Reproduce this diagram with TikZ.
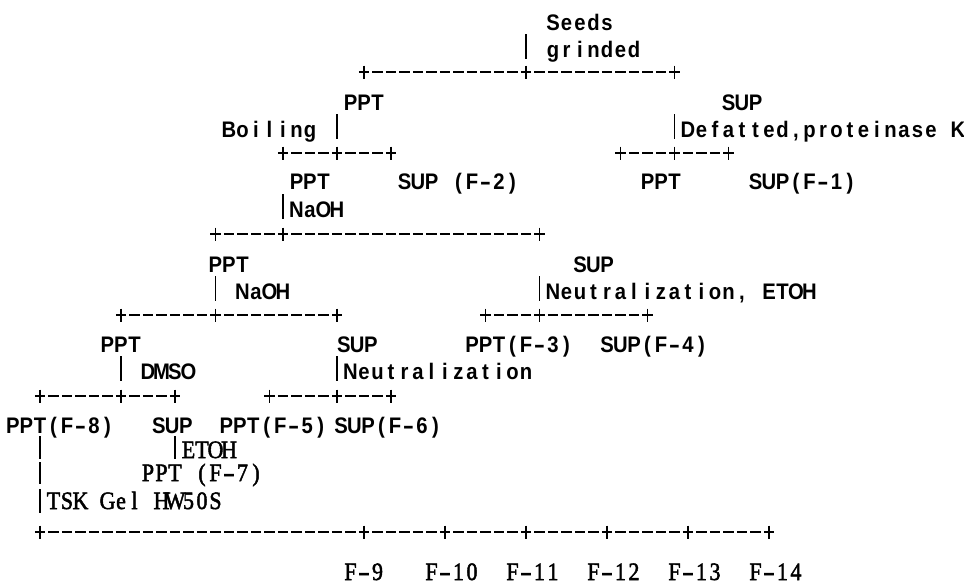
\documentclass[tikz,border=0pt]{standalone}
\usepackage{fontspec}
\usepackage{graphicx}
\newfontfamily\gsans{Liberation Sans}
\newfontfamily\gserif{Liberation Serif}[FakeBold=2]
\newlength\cellwd \setlength\cellwd{13.5pt}
% monospace emulation: every character sits in a cell 13.5pt wide
\def\sanscells#1{\sanscellsA#1\relax}
\def\sanscellsA#1{\ifx\relax#1\else\makebox[\cellwd][c]{\sanschr{#1}}\expandafter\sanscellsA\fi}
\def\sanschr#1{\ifx-#1\scalebox{1.5}[1]{-}\else\scalebox{0.9}[1]{#1}\fi}
\def\serifcells#1{\serifcellsA#1\relax}
\def\serifcellsA#1{\ifx\relax#1\else\makebox[\cellwd][c]{\serifchr{#1}}\expandafter\serifcellsA\fi}
\def\serifchr#1{\ifx-#1\scalebox{1.4}[1]{-}\else\scalebox{0.88}[1]{#1}\fi}
\tikzset{
  sanstxt/.style={anchor=base west, inner sep=0pt, outer sep=0pt,
    font=\gsans\bfseries\fontsize{22.5pt}{25pt}\selectfont},
  seriftxt/.style={anchor=base west, inner sep=0pt, outer sep=0pt,
    font=\gserif\fontsize{25pt}{27pt}\selectfont},
  hline/.style={line width=1.8pt, dash pattern=on 10.5pt off 3pt},
  tick/.style={line width=1.8pt},
  vbar/.style={line width=1.8pt}
}
\begin{document}
\begin{tikzpicture}
\path[fill=white, use as bounding box] (0pt,0pt) rectangle (964pt,-587pt);
\begin{scope}[x=13.5pt, y=-1pt, xshift=6.25pt]
% ---------- texts ----------
\node[sanstxt] (seeds)   at (40,30)  {\sanscells{Seeds}};
\node[sanstxt] (grinded) at (40,57)  {\sanscells{grinded}};
\node[sanstxt] (ppt1)    at (25,110) {\sanscells{PPT}};
\node[sanstxt] (sup1)    at (53,110) {\sanscells{SUP}};
\node[sanstxt] (boiling) at (16,137) {\sanscells{Boiling}};
\node[sanstxt] (defat)   at (50,137) {\sanscells{Defatted,proteinase~K}};
\node[sanstxt] (ppt2)    at (21,189) {\sanscells{PPT}};
\node[sanstxt] (supf2)   at (29,189) {\sanscells{SUP~(F-2)}};
\node[sanstxt] (ppt3)    at (47,189) {\sanscells{PPT}};
\node[sanstxt] (supf1)   at (55,189) {\sanscells{SUP(F-1)}};
\node[sanstxt] (naoh1)   at (21,217) {\sanscells{NaOH}};
\node[sanstxt] (ppt4)    at (15,272) {\sanscells{PPT}};
\node[sanstxt] (sup2)    at (42,272) {\sanscells{SUP}};
\node[sanstxt] (naoh2)   at (17,299) {\sanscells{NaOH}};
\node[sanstxt] (neut1)   at (40,299) {\sanscells{Neutralization,~ETOH}};
\node[sanstxt] (ppt5)    at (7,352)  {\sanscells{PPT}};
\node[sanstxt] (sup3)    at (24.5,352) {\sanscells{SUP}};
\node[sanstxt] (pptf3)   at (34,352) {\sanscells{PPT(F-3)}};
\node[sanstxt] (supf4)   at (44,352) {\sanscells{SUP(F-4)}};
\node[sanstxt] (dmso)    at (10,379) {\sanscells{DMSO}};
\node[sanstxt] (neut2)   at (25,379) {\sanscells{Neutralization}};
\node[sanstxt] (pptf8)   at (0,433)  {\sanscells{PPT(F-8)}};
\node[sanstxt] (sup4)    at (10.8,433) {\sanscells{SUP}};
\node[sanstxt] (pptf5)   at (15.8,433) {\sanscells{PPT(F-5)}};
\node[sanstxt] (supf6)   at (24.3,433) {\sanscells{SUP(F-6)}};
\node[seriftxt] (etoh)   at (13,458) {\serifcells{ETOH}};
\node[seriftxt] (pptf7)  at (10,481) {\serifcells{PPT~(F-7)}};
\node[seriftxt] (tsk)    at (3,509)  {\serifcells{TSK~Gel~HW50S}};
\node[seriftxt] (f9)     at (25,580) {\serifcells{F-9}};
\node[seriftxt] (f10)    at (31,580) {\serifcells{F-10}};
\node[seriftxt] (f11)    at (37,580) {\serifcells{F-11}};
\node[seriftxt] (f12)    at (43,580) {\serifcells{F-12}};
\node[seriftxt] (f13)    at (49,580) {\serifcells{F-13}};
\node[seriftxt] (f14)    at (55,580) {\serifcells{F-14}};
% ---------- junctions (+) ----------
\coordinate (T1) at (26.5,72);  \coordinate (T2) at (38.5,72);  \coordinate (T3) at (49.5,72);
\coordinate (B1) at (20.5,153); \coordinate (B2) at (24.5,153); \coordinate (B3) at (28.5,153);
\coordinate (R1) at (45.5,153); \coordinate (R2) at (49.5,153); \coordinate (R3) at (53.5,153);
\coordinate (N1) at (15.5,234); \coordinate (N2) at (20.5,234); \coordinate (N3) at (39.5,234);
\coordinate (M1) at (8.5,315);  \coordinate (M2) at (15.5,315); \coordinate (M3) at (24.5,315);
\coordinate (E1) at (35.5,315); \coordinate (E2) at (39.5,315); \coordinate (E3) at (47.5,315);
\coordinate (D1) at (2.5,396);  \coordinate (D2) at (8.5,396);  \coordinate (D3) at (12.5,396);
\coordinate (U1) at (19.5,396); \coordinate (U2) at (24.5,396); \coordinate (U3) at (28.5,396);
\coordinate (G0) at (2.5,532);  \coordinate (G1) at (26.5,532); \coordinate (G2) at (32.5,532);
\coordinate (G3) at (38.5,532); \coordinate (G4) at (44.5,532); \coordinate (G5) at (50.5,532);
\coordinate (G6) at (56.5,532);
% ---------- horizontal connectors ----------
\draw[hline] ([xshift=-5.25pt]T1) -- ([xshift=5.25pt]T3);
\draw[hline] ([xshift=-5.25pt]B1) -- ([xshift=5.25pt]B3);
\draw[hline] ([xshift=-5.25pt]R1) -- ([xshift=5.25pt]R3);
\draw[hline] ([xshift=-5.25pt]N1) -- ([xshift=5.25pt]N3);
\draw[hline] ([xshift=-5.25pt]M1) -- ([xshift=5.25pt]M3);
\draw[hline] ([xshift=-5.25pt]E1) -- ([xshift=5.25pt]E3);
\draw[hline] ([xshift=-5.25pt]D1) -- ([xshift=5.25pt]D3);
\draw[hline] ([xshift=-5.25pt]U1) -- ([xshift=5.25pt]U3);
\draw[hline] ([xshift=-5.25pt]G0) -- ([xshift=5.25pt]G6);
\foreach \n in {T1,T2,T3,B1,B2,B3,R1,R2,R3,N1,N2,N3,M1,M2,M3,E1,E2,E3,D1,D2,D3,U1,U2,U3,G0,G1,G2,G3,G4,G5,G6}
  \draw[tick] ([yshift=6.5pt]\n) -- ([yshift=-6.5pt]\n);
% ---------- vertical bars (|) ----------
\coordinate (v1a) at (38.5,34);  \coordinate (v1b) at (38.5,59);
\coordinate (v2a) at (24.5,114); \coordinate (v2b) at (24.5,139);
\coordinate (v3a) at (49.5,114); \coordinate (v3b) at (49.5,139);
\coordinate (v4a) at (20.5,194); \coordinate (v4b) at (20.5,219);
\coordinate (v5a) at (15.5,276); \coordinate (v5b) at (15.5,301);
\coordinate (v6a) at (39.5,276); \coordinate (v6b) at (39.5,301);
\coordinate (v7a) at (8.5,356);  \coordinate (v7b) at (8.5,381);
\coordinate (v8a) at (24.5,356); \coordinate (v8b) at (24.5,381);
\coordinate (v9a) at (2.5,436);  \coordinate (v9b) at (2.5,459);
\coordinate (v10a) at (12.5,436); \coordinate (v10b) at (12.5,459);
\coordinate (v11a) at (2.5,462); \coordinate (v11b) at (2.5,484);
\coordinate (v12a) at (2.5,489); \coordinate (v12b) at (2.5,513);
\foreach \v in {v1,v2,v3,v4,v5,v6,v7,v8,v9,v10,v11,v12}
  \draw[vbar] (\v a) -- (\v b);
\end{scope}
\end{tikzpicture}
\end{document}
